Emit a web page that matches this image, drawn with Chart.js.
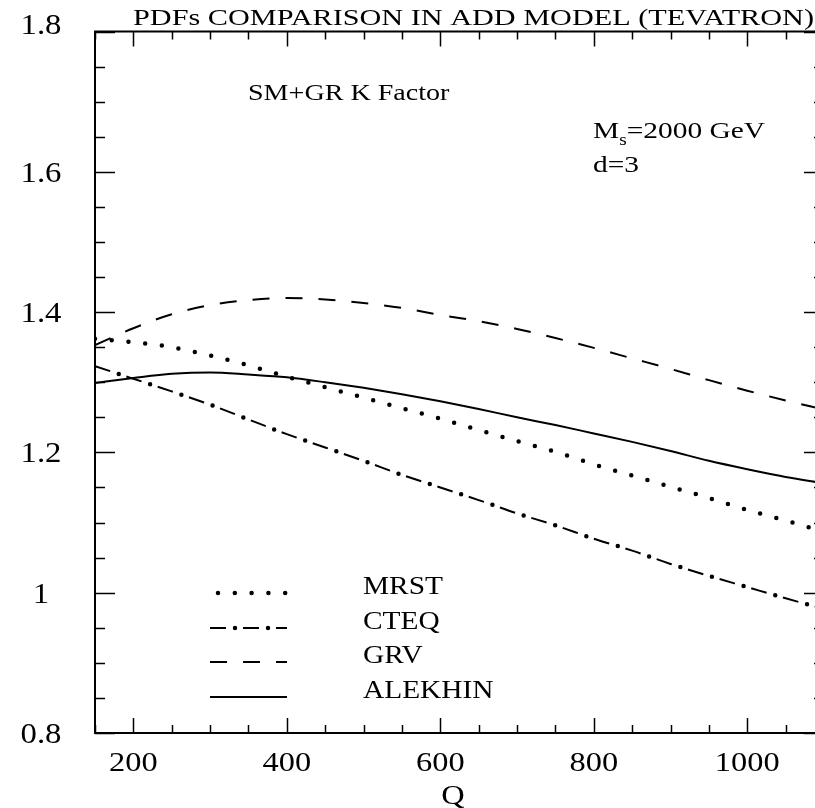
<!DOCTYPE html>
<html>
<head>
<meta charset="utf-8">
<script src="https://cdn.jsdelivr.net/npm/chart.js@4.4.0/dist/chart.umd.min.js"></script>
<style>
  html, body { margin: 0; padding: 0; background: #fff; overflow: hidden; }
  canvas { display: block; }
</style>
</head>
<body>
<canvas id="myChart" width="840" height="808" style="width:840px;height:808px"></canvas>
<script>
// values
var qValues = [150, 200, 250, 300, 350, 400, 450, 500, 550, 600, 650, 700, 750, 800, 850, 900, 950, 1000, 1050, 1100];
var mrst    = [1.362, 1.357, 1.350, 1.338, 1.324, 1.308, 1.293, 1.278, 1.263, 1.248, 1.232, 1.216, 1.201, 1.183, 1.167, 1.151, 1.135, 1.118, 1.103, 1.087];
var cteq    = [1.323, 1.305, 1.287, 1.268, 1.247, 1.226, 1.207, 1.188, 1.168, 1.150, 1.132, 1.113, 1.096, 1.077, 1.060, 1.041, 1.024, 1.008, 0.992, 0.977];
var grv     = [1.353, 1.377, 1.397, 1.410, 1.417, 1.420, 1.418, 1.413, 1.406, 1.396, 1.387, 1.376, 1.363, 1.349, 1.334, 1.319, 1.303, 1.288, 1.274, 1.261];
var alekhin = [1.299, 1.306, 1.312, 1.314, 1.311, 1.307, 1.300, 1.292, 1.283, 1.273, 1.262, 1.250, 1.239, 1.227, 1.215, 1.202, 1.188, 1.176, 1.165, 1.156];

var seriesNames = ['MRST', 'CTEQ', 'GRV', 'ALEKHIN'];
var xTickLabels = [200, 400, 600, 800, 1000];
var yTickLabels = [0.8, 1, 1.2, 1.4, 1.6, 1.8];
var xMin = 150, xMax = 1100, xMinorStep = 50;
var yMin = 0.8, yMax = 1.8, yMinorStep = 0.05;

var titleText = 'PDFs COMPARISON IN ADD MODEL (TEVATRON)';
var xTitle = 'Q';
var noteText = 'SM+GR K Factor';

function pts(ys) {
  return qValues.map(function (q, i) { return { x: q, y: ys[i] }; });
}

var FONT = '"Liberation Serif", "DejaVu Serif", serif';

// text with a horizontal stretch, like the reference
function stretchText(ctx, text, x, y, size, sx, align) {
  ctx.save();
  ctx.font = size + 'px ' + FONT;
  ctx.fillStyle = '#000';
  ctx.textBaseline = 'alphabetic';
  var raw = ctx.measureText(text).width;
  if (typeof sx === 'object') sx = sx.width / raw;
  var w = raw * sx;
  var left = x;
  if (align === 'center') left = x - w / 2;
  if (align === 'right') left = x - w;
  ctx.translate(left, y);
  ctx.scale(sx, 1);
  ctx.textAlign = 'left';
  ctx.fillText(text, 0, 0);
  ctx.restore();
  return w;
}

var framePlugin = {
  id: 'frame',
  afterDatasetsDraw: function (chart) {
    var ctx = chart.ctx;
    var a = chart.chartArea;
    var xs = chart.scales.x, ys = chart.scales.y;
    ctx.save();
    ctx.strokeStyle = '#000';
    ctx.lineWidth = 2;
    ctx.strokeRect(a.left, a.top, a.right - a.left, a.bottom - a.top);

    // x ticks, inward on bottom and top
    ctx.lineWidth = 1.5;
    for (var q = xMin; q <= xMax + 0.001; q += xMinorStep) {
      var px = Math.round(xs.getPixelForValue(q)) + 0.5;
      var major = xTickLabels.indexOf(q) >= 0;
      var len = major ? 15 : 8;
      ctx.beginPath();
      ctx.moveTo(px, a.bottom); ctx.lineTo(px, a.bottom - len);
      ctx.moveTo(px, a.top); ctx.lineTo(px, a.top + len);
      ctx.stroke();
    }
    // y ticks, inward on left and right
    for (var k = 0; k <= Math.round((yMax - yMin) / yMinorStep); k++) {
      var v = yMin + k * yMinorStep;
      var py = Math.round(ys.getPixelForValue(v)) + 0.5;
      var isMajor = Math.abs(Math.round(v * 5) - v * 5) < 1e-6;
      var l = isMajor ? 20 : 10;
      ctx.beginPath();
      ctx.moveTo(a.left, py); ctx.lineTo(a.left + l, py);
      ctx.moveTo(a.right, py); ctx.lineTo(a.right - l, py);
      ctx.stroke();
    }
    ctx.restore();

    // tick labels
    xTickLabels.forEach(function (q) {
      stretchText(ctx, String(q), xs.getPixelForValue(q), a.bottom + 38, 27, 1.2, 'center');
    });
    yTickLabels.forEach(function (v) {
      var yy = ys.getPixelForValue(v) + 10;
      if (v === yMax) yy -= 8; // top label sits a bit higher
      stretchText(ctx, String(v), 41, yy, 29, 1.13, 'center');
    });
    stretchText(ctx, xTitle, (a.left + 815) / 2 - 2, a.bottom + 71, 27, 1.2, 'center');

    // title and notes
    stretchText(ctx, titleText, 133, 25, 23, { width: 681 }, 'left');
    stretchText(ctx, noteText, 248, 100, 23, 1.22, 'left');
    var w = stretchText(ctx, 'M', 593, 138, 23, 1.28, 'left');
    var w2 = stretchText(ctx, 's', 593 + w, 145, 16, 1.2, 'left');
    stretchText(ctx, '=2000 GeV', 593 + w + w2, 138, 23, 1.28, 'left');
    stretchText(ctx, 'd=3', 593, 172, 23, 1.28, 'left');

    // legend
    var legY = [593, 628, 662, 697];
    var x0 = 210, x1 = 287;
    ctx.save();
    ctx.strokeStyle = '#000';
    chart.data.datasets.forEach(function (ds) {
      if (ds.legendRow === undefined) return;
      var yy = legY[ds.legendRow];
      ctx.lineWidth = ds.borderWidth;
      ctx.lineCap = ds.borderCapStyle || 'butt';
      ctx.setLineDash(ds.borderDash || []);
      ctx.lineDashOffset = ds.borderDashOffset || 0;
      var sx0 = ds.legendStart !== undefined ? ds.legendStart : x0;
      ctx.beginPath();
      ctx.moveTo(sx0, yy); ctx.lineTo(x1, yy);
      ctx.stroke();
    });
    ctx.restore();
    seriesNames.forEach(function (n, i) {
      stretchText(ctx, n, 363, legY[i] + 1, 26, 1.13, 'left');
    });
  }
};

var ctx = document.getElementById('myChart').getContext('2d');
var chart = new Chart(ctx, {
  type: 'line',
  data: {
    datasets: [
      {
        label: 'MRST', data: pts(mrst), legendRow: 0, legendStart: 218,
        borderColor: '#000', borderWidth: 4.5, borderCapStyle: 'round',
        borderDash: [0, 16.8]
      },
      {
        label: 'CTEQ', data: pts(cteq), legendRow: 1,
        borderColor: '#000', borderWidth: 2, borderCapStyle: 'butt',
        borderDash: [16, 17]
      },
      {
        label: 'CTEQ dots', data: pts(cteq), legendRow: 1,
        borderColor: '#000', borderWidth: 4.5, borderCapStyle: 'round',
        borderDash: [0, 33], borderDashOffset: 8
      },
      {
        label: 'GRV', data: pts(grv), legendRow: 2,
        borderColor: '#000', borderWidth: 2, borderCapStyle: 'butt',
        borderDash: [17, 16]
      },
      {
        label: 'ALEKHIN', data: pts(alekhin), legendRow: 3,
        borderColor: '#000', borderWidth: 2
      }
    ]
  },
  options: {
    responsive: false,
    animation: false,
    layout: { padding: { left: 95, top: 31.5, right: 16, bottom: 75 } },
    elements: { point: { radius: 0 }, line: { tension: 0.35, fill: false, cubicInterpolationMode: 'monotone' } },
    scales: {
      x: { type: 'linear', min: xMin, max: xMax, display: false },
      y: { type: 'linear', min: yMin, max: yMax, display: false }
    },
    plugins: { legend: { display: false }, tooltip: { enabled: false } }
  },
  plugins: [framePlugin]
});
</script>
</body>
</html>
